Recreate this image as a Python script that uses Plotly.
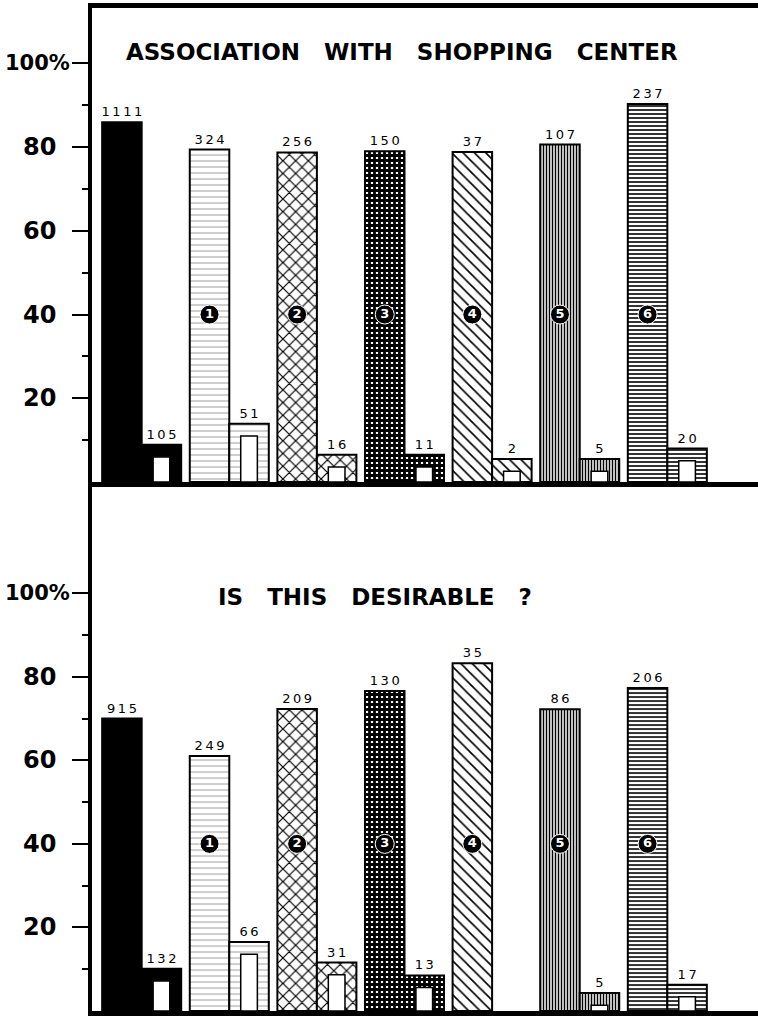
import plotly.graph_objects as go

# ---------------- data ----------------
groups = ["All", "1", "2", "3", "4", "5", "6"]

top_tall_pct = [85.9, 79.4, 78.7, 79.0, 78.8, 80.6, 90.3]
top_tall_n = ["1111", "324", "256", "150", "37", "107", "237"]
top_small_pct = [8.9, 13.9, 6.5, 6.5, 5.5, 5.5, 8.0]
top_small_n = ["105", "51", "16", "11", "2", "5", "20"]

bot_tall_pct = [70.0, 61.0, 72.3, 76.6, 83.2, 72.2, 77.3]
bot_tall_n = ["915", "249", "209", "130", "35", "86", "206"]
bot_small_pct = [10.1, 16.5, 11.6, 8.5, None, 4.3, 6.3]
bot_small_n = ["132", "66", "31", "13", "", "5", "17"]

badge_labels = ["", "1", "2", "3", "4", "5", "6"]

y_tickvals = [20, 40, 60, 80, 100]
y_ticktext = ["20", "40", "60", "80", "100%"]
y_minor = [10, 30, 50, 70, 90]

top_title = "ASSOCIATION WITH SHOPPING CENTER"
bot_title = "IS THIS DESIRABLE ?"

# ---------------- styles ----------------
W = 0.451          # bar width in group units
DOOR_W = 0.19      # inner white "door" width
FRAME = 2.9        # frame thickness of small bars (in % units)
BADGE_LEVEL = 40
SP = "\u2009"
NB = "\u00a0"
PLOT_W = 666
LABEL_RIGHT = -34 / PLOT_W          # numbers end 34 px left of plot edge
LABEL_RIGHT_PCT = -20 / PLOT_W      # "100%" sits closer to the axis

pat_shape = ["", "-", "x", "+", "\\", "|", "-"]
pat_size = [8, 6, 9, 5, 8, 3, 4]
pat_solid = [0.3, 0.12, 0.25, 0.8, 0.2, 0.5, 0.4]
pat_fg = ["black", "#777777", "black", "black", "black", "black", "black"]
bar_color = ["black"] + ["white"] * 6

xs = list(range(len(groups)))


def spaced(s):
    return SP.join(list(s))


def marker_style(i):
    m = dict(color=bar_color[i], line=dict(color="black", width=2))
    if pat_shape[i]:
        m["pattern"] = dict(shape=pat_shape[i], size=pat_size[i],
                            solidity=pat_solid[i], fgcolor=pat_fg[i],
                            bgcolor="white", fillmode="replace")
    return m


fig = go.Figure()
TXT = dict(family="DejaVu Sans", size=13, color="black")


def add_panel(tall, tall_n, small, small_n, xa, ya):
    for i, x in enumerate(xs):
        fig.add_trace(go.Bar(
            x=[x], y=[tall[i]], width=W, offset=-W, marker=marker_style(i),
            text=[spaced(tall_n[i])], textposition="outside", textfont=TXT,
            constraintext="none", cliponaxis=False,
            xaxis=xa, yaxis=ya, showlegend=False, hoverinfo="skip"))
        if small[i] is None:
            continue
        fig.add_trace(go.Bar(
            x=[x], y=[small[i]], width=W, offset=0, marker=marker_style(i),
            text=[spaced(small_n[i])], textposition="outside", textfont=TXT,
            constraintext="none", cliponaxis=False,
            xaxis=xa, yaxis=ya, showlegend=False, hoverinfo="skip"))
        fig.add_trace(go.Bar(
            x=[x], y=[small[i] - FRAME], width=DOOR_W, offset=(W - DOOR_W) / 2,
            marker=dict(color="white", line=dict(color="black", width=1.5)),
            xaxis=xa, yaxis=ya, showlegend=False, hoverinfo="skip"))
    bx = [x - W / 2 for x, b in zip(xs, badge_labels) if b]
    bt = [b for b in badge_labels if b]
    fig.add_trace(go.Scatter(
        x=bx, y=[BADGE_LEVEL] * len(bx), mode="markers+text", text=bt,
        textposition="middle center",
        marker=dict(size=19, color="black", line=dict(color="white", width=1)),
        textfont=dict(family="DejaVu Sans", size=13, color="white", weight="bold"),
        xaxis=xa, yaxis=ya, showlegend=False, hoverinfo="skip"))


add_panel(top_tall_pct, top_tall_n, top_small_pct, top_small_n, "x", "y")
add_panel(bot_tall_pct, bot_tall_n, bot_small_pct, bot_small_n, "x2", "y2")

xrange = [-0.567, 7.035]
common_x = dict(range=xrange, showline=True, linecolor="black", linewidth=5,
                showticklabels=False, ticks="", showgrid=False, zeroline=False,
                fixedrange=True, automargin=False)
common_y = dict(showline=True, linecolor="black", linewidth=4,
                ticks="outside", ticklen=16, tickwidth=2, tickcolor="black",
                tickmode="array", tickvals=y_tickvals, showticklabels=False,
                automargin=False,
                minor=dict(tickmode="array", tickvals=y_minor, ticks="outside",
                           ticklen=6, tickwidth=2, tickcolor="black"),
                showgrid=False, zeroline=False, fixedrange=True)

TICKFONT = dict(family="DejaVu Sans", size=24, color="black", weight="bold")
PCTFONT = dict(family="DejaVu Sans", size=21, color="black", weight="bold")
annotations = [
    dict(text=top_title.replace(" ", NB * 3), xref="paper", yref="paper",
         x=0.4655, y=0.956, xanchor="center", yanchor="middle", showarrow=False,
         font=dict(family="DejaVu Sans", size=23, color="black", weight="bold")),
    dict(text=bot_title.replace(" ", NB * 3), xref="paper", yref="paper",
         x=0.425, y=0.4123, xanchor="center", yanchor="middle", showarrow=False,
         font=dict(family="DejaVu Sans", size=23, color="black", weight="bold")),
]
for yref in ["y", "y2"]:
    for v, t in zip(y_tickvals, y_ticktext):
        is_pct = t.endswith("%")
        annotations.append(dict(
            text=t, xref="paper", yref=yref,
            x=LABEL_RIGHT_PCT if is_pct else LABEL_RIGHT,
            y=v, xanchor="right", yanchor="middle", showarrow=False,
            font=PCTFONT if is_pct else TICKFONT))

fig.update_layout(
    width=758, height=1016,
    margin=dict(l=92, r=0, t=8, b=5),
    paper_bgcolor="white", plot_bgcolor="white",
    barmode="overlay",
    xaxis=dict(common_x, anchor="y", domain=[0, 1], mirror=True),
    yaxis=dict(common_y, anchor="x", domain=[0.5274, 1], range=[0, 113.2]),
    xaxis2=dict(common_x, anchor="y2", domain=[0, 1]),
    yaxis2=dict(common_y, anchor="x2", domain=[0, 0.5224], range=[0, 125.4]),
    annotations=annotations,
)

fig.write_html("out.html", post_script="document.body.style.margin='0';",
               config={"displayModeBar": False})
